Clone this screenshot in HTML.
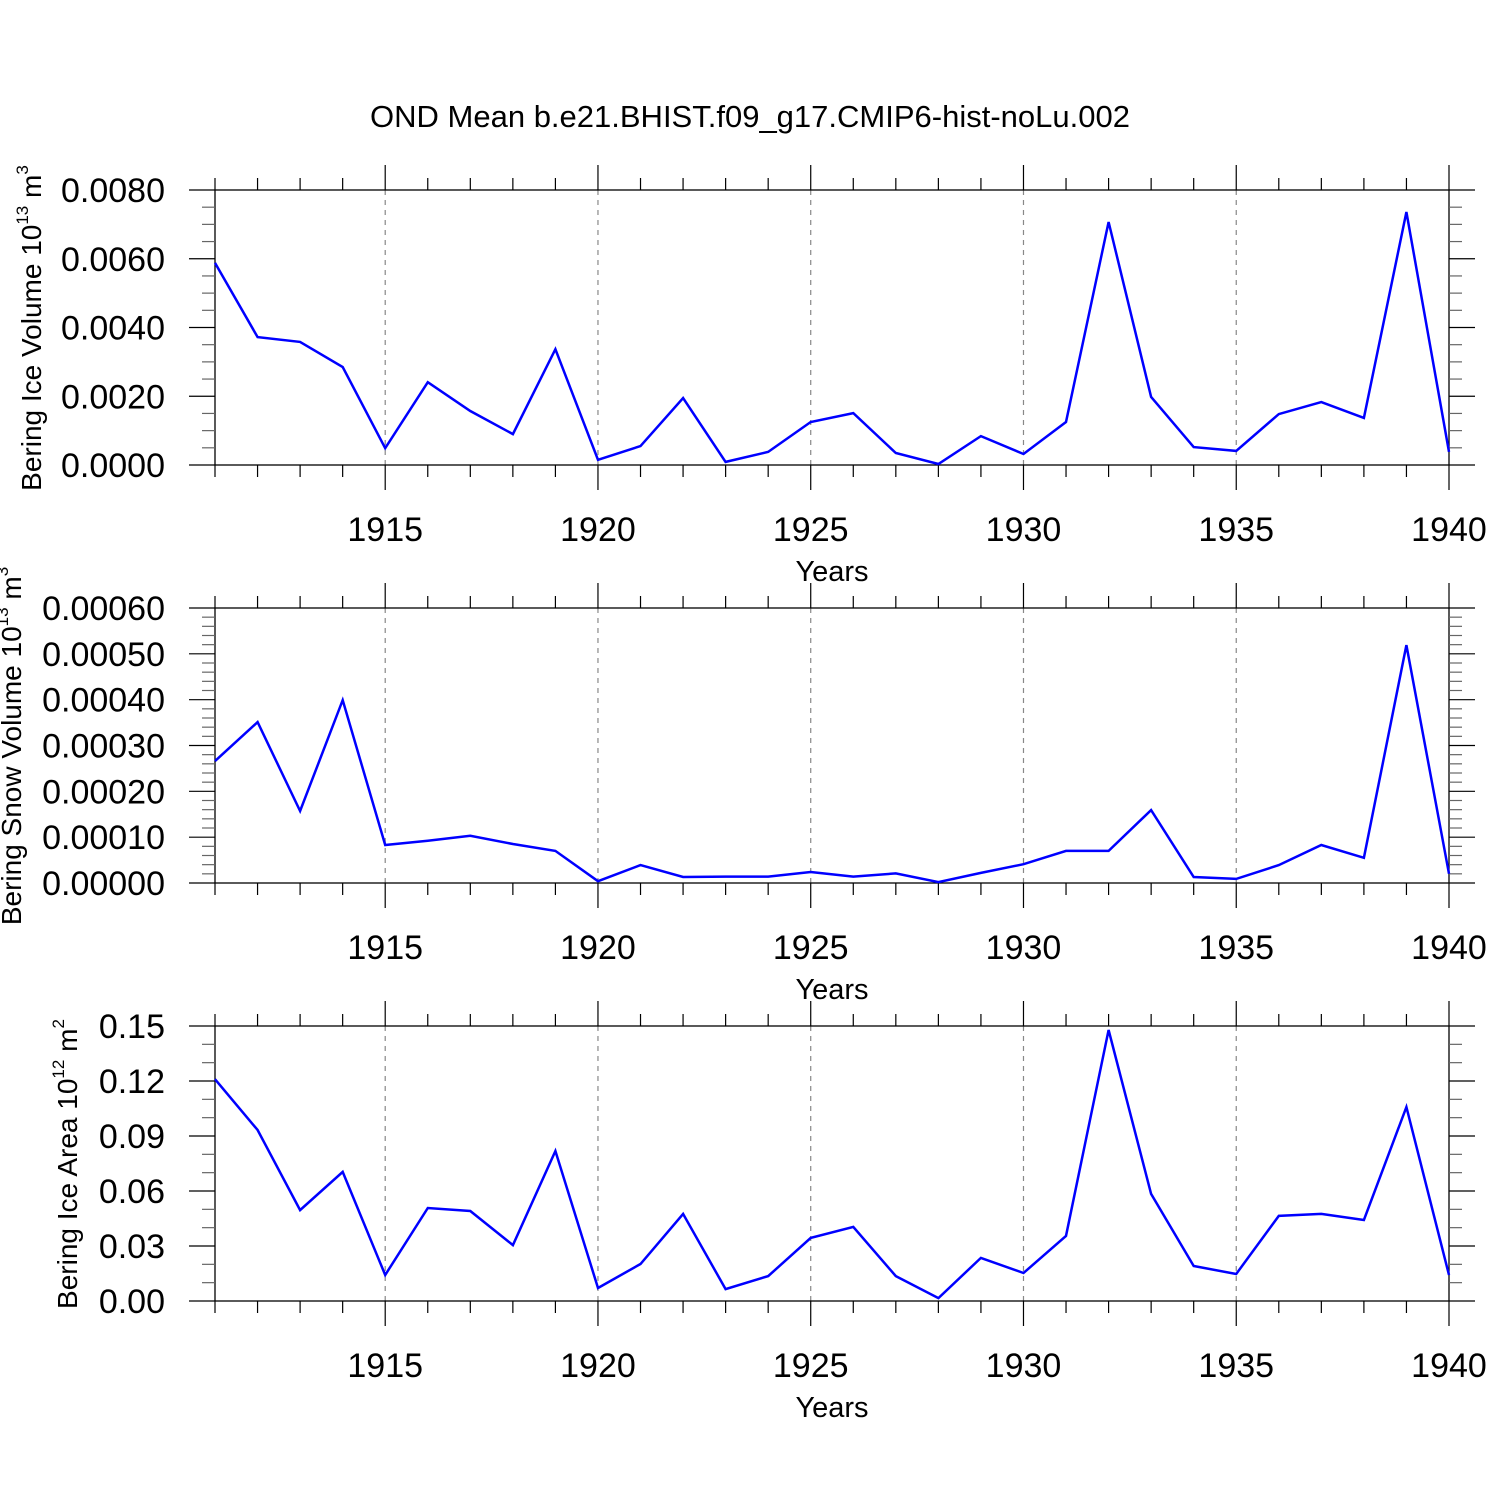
<!DOCTYPE html>
<html><head><meta charset="utf-8"><style>body{margin:0;background:#fff}svg{display:block;font-family:"Liberation Sans",sans-serif}</style></head>
<body>
<svg id="c" width="1500" height="1500" xmlns="http://www.w3.org/2000/svg">
<text x="750" y="127" font-size="31" text-anchor="middle">OND Mean b.e21.BHIST.f09_g17.CMIP6-hist-noLu.002</text>
</svg>
<script>
const years = [1911,1912,1913,1914,1915,1916,1917,1918,1919,1920,1921,1922,1923,1924,1925,1926,1927,1928,1929,1930,1931,1932,1933,1934,1935,1936,1937,1938,1939,1940];
const iceVolume = [0.00588,0.00372,0.00358,0.00285,0.00049,0.00241,0.00157,0.0009,0.00337,0.00015,0.00055,0.00195,0.00009,0.00038,0.00125,0.00151,0.00035,0.00003,0.00084,0.00032,0.00125,0.00707,0.00198,0.00052,0.00041,0.00148,0.00183,0.00137,0.00736,0.00038];
const snowVolume = [0.000266,0.000351,0.000157,0.000399,0.000083,0.000092,0.000103,0.000085,0.00007,0.000004,0.000039,0.000013,0.000014,0.000014,0.000024,0.000014,0.000021,0.000002,0.000022,0.000041,0.00007,0.00007,0.000159,0.000013,0.000009,0.000039,0.000083,0.000055,0.000519,0.00002];
const iceArea = [0.121,0.0933,0.0496,0.0704,0.0142,0.0507,0.0491,0.0305,0.0818,0.0071,0.0202,0.0475,0.0065,0.0136,0.0344,0.0404,0.0136,0.0016,0.0235,0.0153,0.0355,0.1478,0.0584,0.0191,0.0147,0.0464,0.0475,0.0442,0.1058,0.0142];
const xTicks = [1915,1920,1925,1930,1935,1940];
const ticks1 = ["0.0000","0.0020","0.0040","0.0060","0.0080"];
const ticks2 = ["0.00000","0.00010","0.00020","0.00030","0.00040","0.00050","0.00060"];
const ticks3 = ["0.00","0.03","0.06","0.09","0.12","0.15"];

const svg = document.getElementById('c');
const NS = 'http://www.w3.org/2000/svg';
function mk(tag, attrs, parent){const e=document.createElementNS(NS,tag);for(const k in attrs)e.setAttribute(k,attrs[k]);(parent||svg).appendChild(e);return e;}
const X0=215, X1=1449, xmin=1911, xmax=1940;
const xs = v => X0 + (v-xmin)/(xmax-xmin)*(X1-X0);

const panels = [
 {top:190, data:iceVolume, ticks:ticks1, max:0.008, minor:0.0005, label:'Bering Ice Volume 10', sup:'13', unit:' m', usup:'3', lx:41, name:'ice-volume'},
 {top:608, data:snowVolume, ticks:ticks2, max:0.0006, minor:0.00002, label:'Bering Snow Volume 10', sup:'13', unit:' m', usup:'3', lx:21, name:'snow-volume'},
 {top:1026, data:iceArea, ticks:ticks3, max:0.15, minor:0.01, label:'Bering Ice Area 10', sup:'12', unit:' m', usup:'2', lx:77, name:'ice-area'}
];
panels.forEach(p=>{
  const H=275, bot=p.top+H;
  const ys = v => bot - v/p.max*H;
  const g = mk('g',{});
  
  
  xTicks.slice(0,5).forEach(t=>{const l=mk('line',{x1:xs(t),x2:xs(t),y1:p.top,y2:bot,stroke:'#888','stroke-width':1.2,'stroke-dasharray':'5,5'},g);
    
    });
  const r=mk('rect',{x:X0,y:p.top,width:X1-X0,height:H,fill:'none',stroke:'#000','stroke-width':1.3},g);
  
  
  years.forEach(yr=>{const len=(yr%5===0)?25:12; const x=xs(yr);
    mk('line',{x1:x,x2:x,y1:p.top,y2:p.top-len,stroke:'#000','stroke-width':1.2},g);
    mk('line',{x1:x,x2:x,y1:bot,y2:bot+len,stroke:'#000','stroke-width':1.2},g);});
  xTicks.forEach(t=>{const tx=mk('text',{x:xs(t),y:bot+76,'font-size':34,'text-anchor':'middle'},g);tx.textContent=t;
    
    });
  const xt=mk('text',{x:832,y:bot+116,'font-size':29,'text-anchor':'middle'},g);xt.textContent='Years';
  
  
  const n=Math.round(p.max/p.minor);
  for(let i=0;i<=n;i++){const v=i*p.minor,y=ys(v);const majorStep=p.max/(p.ticks.length-1);const isMaj=Math.abs(v/majorStep-Math.round(v/majorStep))<1e-6;const len=isMaj?26:13;
    mk('line',{x1:X0,x2:X0-len,y1:y,y2:y,stroke:isMaj?'#000':'#666','stroke-width':1.2},g);
    mk('line',{x1:X1,x2:X1+len,y1:y,y2:y,stroke:isMaj?'#000':'#666','stroke-width':1.2},g);}
  p.ticks.forEach((t,i)=>{const y=ys(i*p.max/(p.ticks.length-1));const tx=mk('text',{x:165,y:y+12,'font-size':34,'text-anchor':'end'},g);tx.textContent=t;
    
    });
  const yl=mk('text',{transform:`translate(${p.lx},${bot-137}) rotate(-90)`,'font-size':28,'text-anchor':'middle'},g);
  
  
  yl.appendChild(document.createTextNode(p.label));
  const s1=mk('tspan',{'font-size':17,dy:-13},yl);s1.textContent=p.sup;
  const s2=mk('tspan',{dy:13},yl);s2.textContent=p.unit;
  const s3=mk('tspan',{'font-size':17,dy:-13},yl);s3.textContent=p.usup;
  const pts=p.data.map((v,i)=>xs(years[i]).toFixed(1)+','+ys(v).toFixed(1)).join(' ');
  const pl=mk('polyline',{points:pts,fill:'none',stroke:'#0000ff','stroke-width':2.5,'stroke-linejoin':'miter'},g);
  
  
});
</script>
</body></html>
